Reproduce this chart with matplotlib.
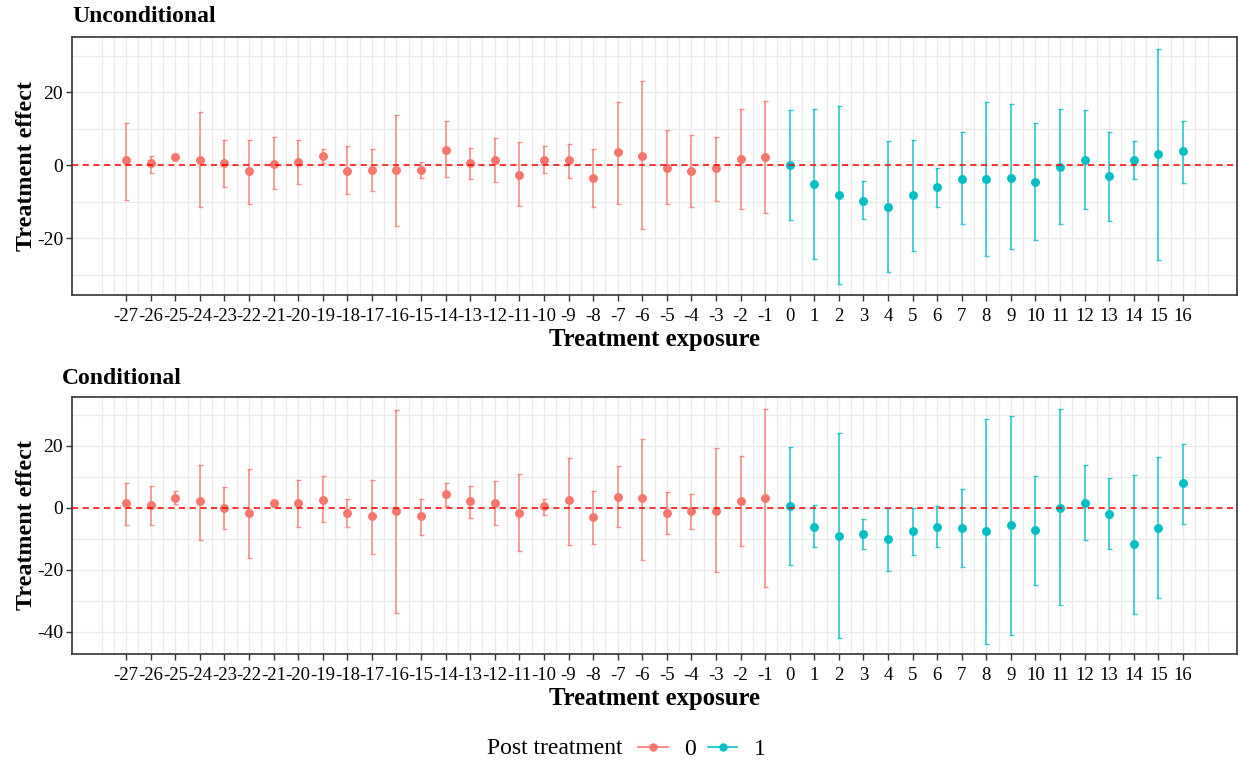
import matplotlib.pyplot as plt
import numpy as np
from matplotlib.lines import Line2D

plt.rcParams['font.family'] = ['Liberation Serif', 'DejaVu Serif']

# Event time (treatment exposure)
exposure = list(range(-27, 17))

# Unconditional estimates and confidence bounds
est_unc = [1.4, 0.5, 2.2, 1.4, 0.5, -1.7, 0.4, 0.8, 2.6, -1.7, -1.3, -1.3, -1.3, 4.2, 0.5,
           1.4, -2.6, 1.4, 1.4, -3.5, 3.5, 2.6, -0.8, -1.7, -0.8, 1.7, 2.2, 0.0, -5.1, -8.1,
           -9.9, -11.6, -8.1, -6.0, -3.8, -3.8, -3.5, -4.7, -0.5, 1.3, -3.0, 1.3, 3.0, 3.8]
hi_unc = [11.6, 2.6, 2.8, 14.6, 6.9, 6.9, 7.8, 6.9, 4.4, 5.2, 4.4, 13.7, 0.9, 12.1, 4.8,
          7.3, 6.4, 5.2, 5.9, 4.4, 17.2, 23.1, 9.6, 8.2, 7.8, 15.4, 17.6, 15.1, 15.4, 16.3,
          -4.3, 6.6, 6.9, -0.8, 9.0, 17.2, 16.7, 11.6, 15.4, 15.0, 9.0, 6.5, 31.7, 12.1]
lo_unc = [-9.6, -2.1, 1.6, -11.6, -5.9, -10.7, -6.6, -5.2, 0.5, -8.0, -7.0, -16.7, -3.5, -3.2, -3.9,
          -4.7, -11.1, -2.1, -3.5, -11.6, -10.8, -17.6, -10.8, -11.6, -9.9, -12.1, -13.2, -15.1, -25.8, -32.6,
          -14.9, -29.2, -23.6, -11.6, -16.2, -24.9, -23.1, -20.5, -16.2, -12.1, -15.3, -3.8, -26.0, -4.8]

# Conditional estimates and confidence bounds
est_con = [1.6, 1.1, 3.1, 2.2, 0.0, -1.5, 1.6, 1.6, 2.6, -1.5, -2.5, -1.1, -2.5, 4.6, 2.2,
           1.6, -1.5, 0.6, 2.6, -3.0, 3.7, 3.1, -1.5, -1.0, -1.0, 2.2, 3.1, 0.6, -6.0, -9.0,
           -8.5, -10.0, -7.5, -6.0, -6.6, -7.5, -5.5, -7.0, 0.0, 1.6, -1.9, -11.5, -6.6, 8.1]
hi_con = [8.1, 7.2, 5.6, 13.8, 6.7, 12.7, 2.7, 9.1, 10.2, 3.0, 9.1, 31.7, 3.0, 8.1, 7.2,
          8.6, 11.1, 3.0, 16.1, 5.6, 13.7, 22.4, 5.2, 4.6, 19.4, 16.7, 31.9, 19.7, 1.1, 24.2,
          -3.4, 0.0, 0.0, 0.5, 6.1, 28.8, 29.8, 10.2, 31.9, 13.8, 9.7, 10.8, 16.3, 20.8]
lo_con = [-5.6, -5.6, 1.4, -10.2, -6.7, -16.1, 0.5, -6.1, -4.6, -6.1, -14.8, -33.9, -8.6, 0.5, -3.2,
          -5.6, -14.0, -2.4, -11.8, -11.6, -6.1, -16.7, -8.3, -6.7, -20.8, -12.2, -25.6, -18.3, -12.7, -41.9,
          -13.1, -20.2, -15.3, -12.7, -19.1, -43.9, -40.9, -24.7, -31.2, -10.2, -13.1, -34.2, -29.0, -5.2]

group_colors = {0: '#F8766D', 1: '#00BFC4'}


def panel(ax, est, lo, hi, ylim, yticks, yminor):
    x = np.array(exposure)
    est = np.array(est)
    lo = np.array(lo)
    hi = np.array(hi)
    post = (x >= 0).astype(int)

    # grid like theme_bw
    ax.set_facecolor('white')
    for xv in np.arange(-28, 17.5, 0.5):
        ax.axvline(xv, color='#EBEBEB', lw=1.0, zorder=0)
    for yv in yticks + yminor:
        ax.axhline(yv, color='#EBEBEB', lw=1.0, zorder=0)

    for g in [0, 1]:
        m = post == g
        ax.errorbar(x[m], est[m], yerr=[est[m] - lo[m], hi[m] - est[m]], fmt='none',
                    ecolor=group_colors[g], elinewidth=1.2, capsize=1.8, capthick=1.0,
                    alpha=0.8, zorder=2)
        ax.plot(x[m], est[m], 'o', color=group_colors[g], ms=5.4, zorder=3)

    ax.axhline(0, color='red', ls=(0, (4, 3)), lw=1.1, zorder=4)

    ax.set_xlim(-29.2, 18.2)
    ax.set_ylim(*ylim)
    ax.set_xticks(exposure)
    ax.set_xticklabels([str(v) for v in exposure], fontsize=13.5)
    ax.set_yticks(yticks)
    ax.set_yticklabels([str(v) for v in yticks], fontsize=14)
    ax.tick_params(length=4, width=1, color='#333333')
    ax.tick_params(axis='x', pad=5.5)
    ax.tick_params(axis='y', pad=2.5)
    for s in ax.spines.values():
        s.set_color('#333333')
        s.set_linewidth(1.2)
    ax.set_xlabel('Treatment exposure', fontsize=17.8, fontweight='bold', labelpad=2)
    ax.set_ylabel('Treatment effect', fontsize=17.3, fontweight='bold', labelpad=0)


fig = plt.figure(figsize=(12.38, 7.61), dpi=100)

ax1 = fig.add_axes([0.0582, 0.6124, 0.941, 0.339])
panel(ax1, est_unc, lo_unc, hi_unc, (-35.6, 35.1), [-20, 0, 20], [-30, -10, 10, 30])
fig.text(72 / 1238, 1 - 17 / 761, 'Unconditional', fontsize=17, fontweight='bold', va='center', ha='left')

ax2 = fig.add_axes([0.0582, 0.1406, 0.941, 0.3377])
panel(ax2, est_con, lo_con, hi_con, (-47.1, 35.8), [-40, -20, 0, 20], [-30, -10, 10, 30])
fig.text(62 / 1238, 1 - 378 / 761, 'Conditional', fontsize=17, fontweight='bold', va='center', ha='left')

# shared legend at the bottom
fig.text(487 / 1238, 1 - 748 / 761, 'Post treatment', fontsize=17, va='center', ha='left')
handles = [Line2D([0], [0], color=group_colors[g], marker='o', ms=5, lw=1.2) for g in [0, 1]]
fig.legend(handles, ['0', '1'], loc='center left', bbox_to_anchor=(617 / 1238, 1 - 749 / 761),
           ncol=2, frameon=False, fontsize=17, handlelength=1.25, handletextpad=0.7,
           columnspacing=0.5)

plt.savefig('out.png', dpi=100)
